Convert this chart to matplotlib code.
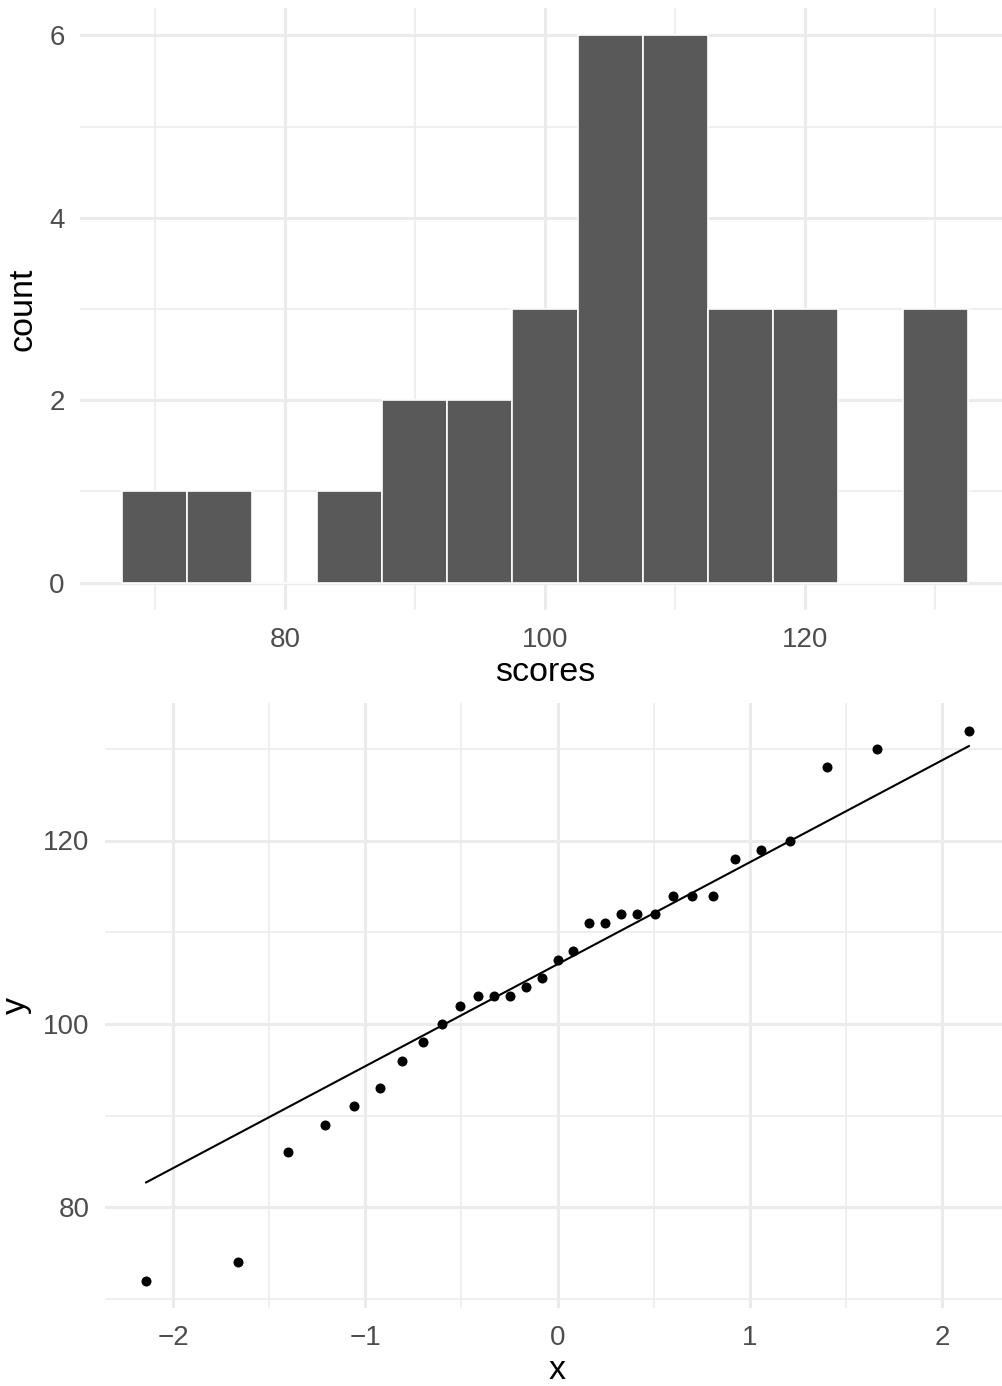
"""Histogram of scores plus normal QQ plot, ggplot theme_minimal look."""

import numpy as np
import matplotlib
matplotlib.use("Agg")
import matplotlib.pyplot as plt
from matplotlib.ticker import MultipleLocator

plt.rcParams['font.family'] = ['Liberation Sans', 'DejaVu Sans']

# Data
scores = [72, 74, 86, 89, 91, 93, 96, 98, 100, 102, 103, 103, 103, 104, 105, 107,
          108, 111, 111, 112, 112, 112, 114, 114, 114, 118, 119, 120, 128, 130, 132]
theoretical = [-2.14, -1.66, -1.40, -1.21, -1.06, -0.925, -0.807, -0.700, -0.600,
               -0.506, -0.416, -0.330, -0.245, -0.162, -0.081, 0.0, 0.081, 0.162,
               0.245, 0.330, 0.416, 0.506, 0.600, 0.700, 0.807, 0.925, 1.06, 1.21,
               1.40, 1.66, 2.14]
qq_line_x = [-2.14, 2.14]
qq_line_y = [82.7, 130.3]

hist_xticks = [80, 100, 120]
hist_yticks = [0, 2, 4, 6]
qq_xticks = [-2, -1, 0, 1, 2]
qq_yticks = [80, 100, 120]

GRID = "#EBEBEB"
TICK = "#4D4D4D"
BAR = "#595959"


def style_axes(ax):
    for s in ax.spines.values():
        s.set_visible(False)
    ax.set_axisbelow(True)
    ax.grid(which='major', color=GRID, linewidth=2.2)
    ax.grid(which='minor', color=GRID, linewidth=1.1)
    ax.tick_params(which='both', length=0, labelsize=20, colors=TICK)
    ax.tick_params(axis='x', pad=12)
    ax.tick_params(axis='y', pad=11)


fig = plt.figure(figsize=(10.02, 13.86), dpi=100)

# Histogram
ax1 = fig.add_axes([80 / 1002, 1 - 610 / 1386, 930 / 1002, 602 / 1386])
style_axes(ax1)
edges = np.arange(67.5, 133, 5)
ax1.hist(scores, bins=edges, color=BAR, edgecolor="white", linewidth=1.2)
ax1.set_xlim(64.25, 135.75)
ax1.set_ylim(-0.3, 6.3)
ax1.set_xticks(hist_xticks)
ax1.set_yticks(hist_yticks)
ax1.xaxis.set_minor_locator(MultipleLocator(10))
ax1.yaxis.set_minor_locator(MultipleLocator(1))
ax1.set_xlabel("scores", fontsize=24.5, labelpad=3)
ax1.set_ylabel("count", fontsize=24.5, labelpad=8)

# QQ plot
ax2 = fig.add_axes([105 / 1002, 1 - 1308 / 1386, 905 / 1002, 605 / 1386])
style_axes(ax2)
ax2.scatter(theoretical, scores, s=52, color="black", linewidths=0, zorder=3)
ax2.plot(qq_line_x, qq_line_y, color="black", linewidth=1.5, zorder=2)
ax2.set_xlim(-2.354, 2.354)
ax2.set_ylim(69, 135)
ax2.set_xticks(qq_xticks)
ax2.set_yticks(qq_yticks)
ax2.xaxis.set_minor_locator(MultipleLocator(0.5))
ax2.yaxis.set_minor_locator(MultipleLocator(10))
ax2.set_xlabel("x", fontsize=24.5, labelpad=3)
ax2.set_ylabel("y", fontsize=24.5, labelpad=8)

fig.savefig("out.png", dpi=100)
